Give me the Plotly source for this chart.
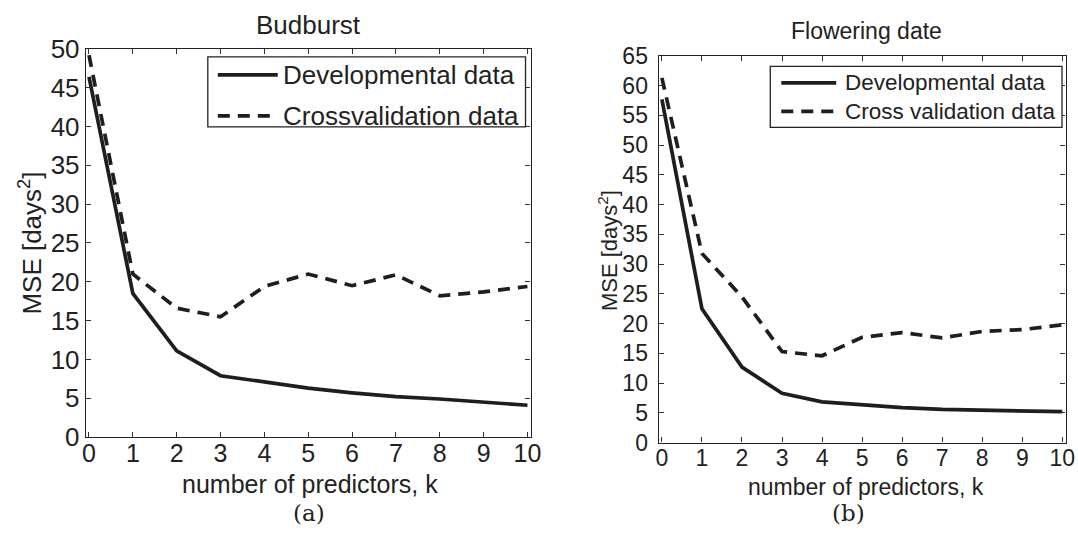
import plotly.graph_objects as go

# ---------------- data ----------------
k = [0, 1, 2, 3, 4, 5, 6, 7, 8, 9, 10]
bud_dev = [46.4, 18.5, 11.1, 7.9, 7.1, 6.3, 5.7, 5.2, 4.9, 4.5, 4.1]
bud_cv = [49.2, 21.0, 16.6, 15.5, 19.4, 21.0, 19.5, 20.9, 18.2, 18.7, 19.4]
flo_dev = [57.7, 22.5, 12.7, 8.3, 6.85, 6.3, 5.9, 5.6, 5.45, 5.35, 5.2]
flo_cv = [61.3, 31.8, 24.5, 15.3, 14.6, 17.7, 18.5, 17.6, 18.7, 19.0, 19.8]

bud_yticks = list(range(0, 51, 5))
flo_yticks = list(range(0, 66, 5))
xticks = list(range(0, 11))

titles = ["Budburst", "Flowering date"]
panel_labels = ["(a)", "(b)"]
dev_name = "Developmental data"
cv_names = ["Crossvalidation data", "Cross validation data"]
xlabel = "number of predictors, k"
ylabel = "MSE [days<sup>2</sup>]"

W, H = 1078, 541
INK = "#1e1e1e"
TXT = "#222"
FONT = "Liberation Sans, Arial, Helvetica, sans-serif"
SERIF = "DejaVu Serif, Liberation Serif, serif"
DASH = "12px,8px"

# mapping from target-picture pixels to paper fractions
SX, OX = 0.987, 3.0
SY, OY = 0.946, 15.0

def fx(X):
    return min(1.0, max(0.0, (X - OX) / SX / W))

def fy(Y):
    return min(1.0, max(0.0, 1 - (Y - OY) / SY / H))

fig = go.Figure()

fig.add_trace(go.Scatter(x=k, y=bud_dev, mode="lines", name=dev_name,
                         line=dict(color=INK, width=3.7), xaxis="x", yaxis="y",
                         showlegend=False))
fig.add_trace(go.Scatter(x=k, y=bud_cv, mode="lines", name=cv_names[0],
                         line=dict(color=INK, width=3.7, dash=DASH),
                         xaxis="x", yaxis="y", showlegend=False))
fig.add_trace(go.Scatter(x=k, y=flo_dev, mode="lines", name=dev_name,
                         line=dict(color=INK, width=3.7), xaxis="x2", yaxis="y2",
                         showlegend=False))
fig.add_trace(go.Scatter(x=k, y=flo_cv, mode="lines", name=cv_names[1],
                         line=dict(color=INK, width=3.7, dash=DASH),
                         xaxis="x2", yaxis="y2", showlegend=False))

def axis_style(size, standoff):
    return dict(showline=True, linecolor="#222", linewidth=1.3, mirror="ticks",
                ticks="inside", ticklen=5, tickwidth=1, tickcolor="#333",
                showgrid=False, zeroline=False, ticklabelstandoff=standoff,
                tickfont=dict(size=size, color=TXT))

fig.update_layout(
    width=W, height=H, autosize=False,
    margin=dict(l=0, r=0, t=0, b=0),
    paper_bgcolor="white", plot_bgcolor="white",
    font=dict(family=FONT, color=TXT),
    showlegend=False,
    xaxis=dict(domain=[fx(85), fx(530)], range=[-0.07, 10.07], tickvals=xticks,
               anchor="y", **axis_style(25, -6)),
    yaxis=dict(domain=[fy(437.7), fy(49)], range=[0, 50], tickvals=bud_yticks,
               anchor="x", **axis_style(26, 0)),
    xaxis2=dict(domain=[fx(658.3), 1076.5 / W], range=[-0.08, 10.08], tickvals=xticks,
                anchor="y2", **axis_style(23, -5)),
    yaxis2=dict(domain=[fy(443.3), fy(56)], range=[0, 65], tickvals=flo_yticks,
                anchor="x2", **axis_style(23, 5)),
)

def text(t, X, Y, size, xanchor="center", angle=0, family=None):
    f = dict(size=size, color=TXT)
    if family:
        f["family"] = family
    fig.add_annotation(text=t, x=fx(X), y=fy(Y), xref="paper", yref="paper",
                       showarrow=False, font=f, xanchor=xanchor, yanchor="middle",
                       textangle=angle)

# titles
text(titles[0], 308, 25, 26)
text(titles[1], 866, 31, 23)
# axis labels
text(xlabel, 309.5, 485, 25)
text(xlabel, 866, 487.5, 23)
text(ylabel, 30, 243, 26, angle=-90)
text(ylabel, 607, 251, 22, angle=-90)
# panel labels
text(panel_labels[0], 308, 513.5, 23, family=SERIF)
text(panel_labels[1], 848, 513.5, 23, family=SERIF)

# legends (box, line samples, labels)
legends = [
    dict(box=(207, 57, 525, 127), x0=217, x1=277, tx=280, rows=(75, 116),
         names=(dev_name, cv_names[0]), size=26),
    dict(box=(770, 66.5, 1062, 127.5), x0=781, x1=836, tx=843, rows=(83, 111.5),
         names=(dev_name, cv_names[1]), size=22.5),
]
for lg in legends:
    bx0, by0, bx1, by1 = lg["box"]
    fig.add_shape(type="rect", xref="paper", yref="paper",
                  x0=fx(bx0), x1=fx(bx1), y0=fy(by1), y1=fy(by0),
                  line=dict(color="#222", width=1.3), fillcolor="white", layer="above")
    for (ry, nm, dash) in zip(lg["rows"], lg["names"], ("solid", DASH)):
        fig.add_shape(type="line", xref="paper", yref="paper",
                      x0=fx(lg["x0"]), x1=fx(lg["x1"]), y0=fy(ry), y1=fy(ry),
                      line=dict(color=INK, width=3.7, dash=dash), layer="above")
        text(nm, lg["tx"], ry, lg["size"], xanchor="left")

fig.write_html("out.html", config={"responsive": False})
